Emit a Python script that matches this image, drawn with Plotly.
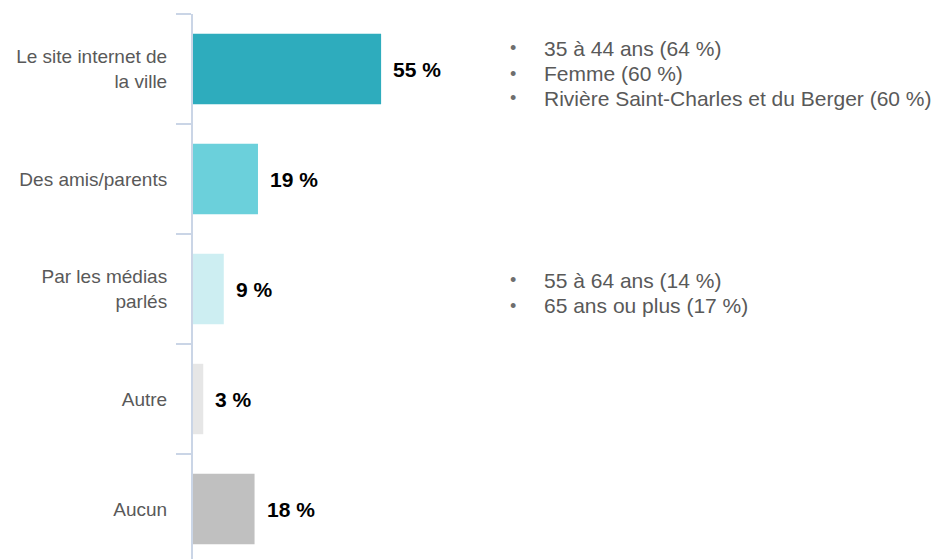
import plotly.graph_objects as go

categories = ["Le site internet de<br>la ville", "Des amis/parents", "Par les médias<br>parlés", "Autre", "Aucun"]
values = [55, 19, 9, 3, 18]
value_labels = ["55 %", "19 %", "9 %", "3 %", "18 %"]
bar_colors = ["#2EACBD", "#6BD0DB", "#CDEEF2", "#E6E6E6", "#C0C0C0"]

notes_group1 = ["35 à 44 ans (64 %)", "Femme (60 %)", "Rivière Saint-Charles et du Berger (60 %)"]
notes_group2 = ["55 à 64 ans (14 %)", "65 ans ou plus (17 %)"]

FONT = "Liberation Sans, Arial, sans-serif"
OFF = 8  # page body margin of the browser
W, H = 943 - OFF, 559 - OFF
ML, MT, MB, MR = 193 - OFF, 14 - OFF, 0, 0
PW, PH = W - ML - MR, H - MT - MB


def px_x(sx):
    return (sx - OFF - ML) / PW


def px_y(sy):
    return (H - MB - (sy - OFF)) / PH


fig = go.Figure(go.Bar(
    y=categories, x=values, orientation="h",
    marker=dict(color=bar_colors, line=dict(width=0)),
    width=0.64, hoverinfo="skip",
))

annotations = []
for c, v, t in zip(categories, values, value_labels):
    annotations.append(dict(x=v, y=c, xref="x", yref="y", text=t, showarrow=False,
                            xanchor="left", yanchor="middle", xshift=10,
                            font=dict(family=FONT, size=21, color="#000000", weight="bold")))


def add_notes(lines, y0, step):
    for i, line in enumerate(lines):
        sy = y0 + i * step
        annotations.append(dict(x=px_x(513), y=px_y(sy), xref="paper", yref="paper", text="•",
                                showarrow=False, xanchor="center", yanchor="middle",
                                font=dict(family=FONT, size=18, color="#6E6E6E")))
        annotations.append(dict(x=px_x(542), y=px_y(sy), xref="paper", yref="paper", text=line,
                                showarrow=False, xanchor="left", yanchor="middle",
                                font=dict(family=FONT, size=21, color="#595959")))


add_notes(notes_group1, 48.5, 25)
add_notes(notes_group2, 280, 25.5)

# category bands of 110 px, starting at the top edge of the plot area
ymax = -0.5 + PH / 110.0

fig.update_layout(
    width=W, height=H,
    margin=dict(l=ML, r=MR, t=MT, b=MB, pad=0, autoexpand=False),
    paper_bgcolor="white", plot_bgcolor="white",
    showlegend=False,
    font=dict(family=FONT, size=19, color="#595959"),
    xaxis=dict(range=[0, PW / 3.42], visible=False, fixedrange=True),
    yaxis=dict(
        range=[ymax, -0.5], type="category", tickson="boundaries",
        ticks="outside", ticklen=15, tickwidth=2, tickcolor="#CAD5E6",
        showline=True, linecolor="#CAD5E6", linewidth=2,
        showgrid=False, zeroline=False,
        tickfont=dict(family=FONT, size=19, color="#595959"),
        ticklabelstandoff=20,
    ),
    annotations=annotations,
)

fig.write_html("out.html")
